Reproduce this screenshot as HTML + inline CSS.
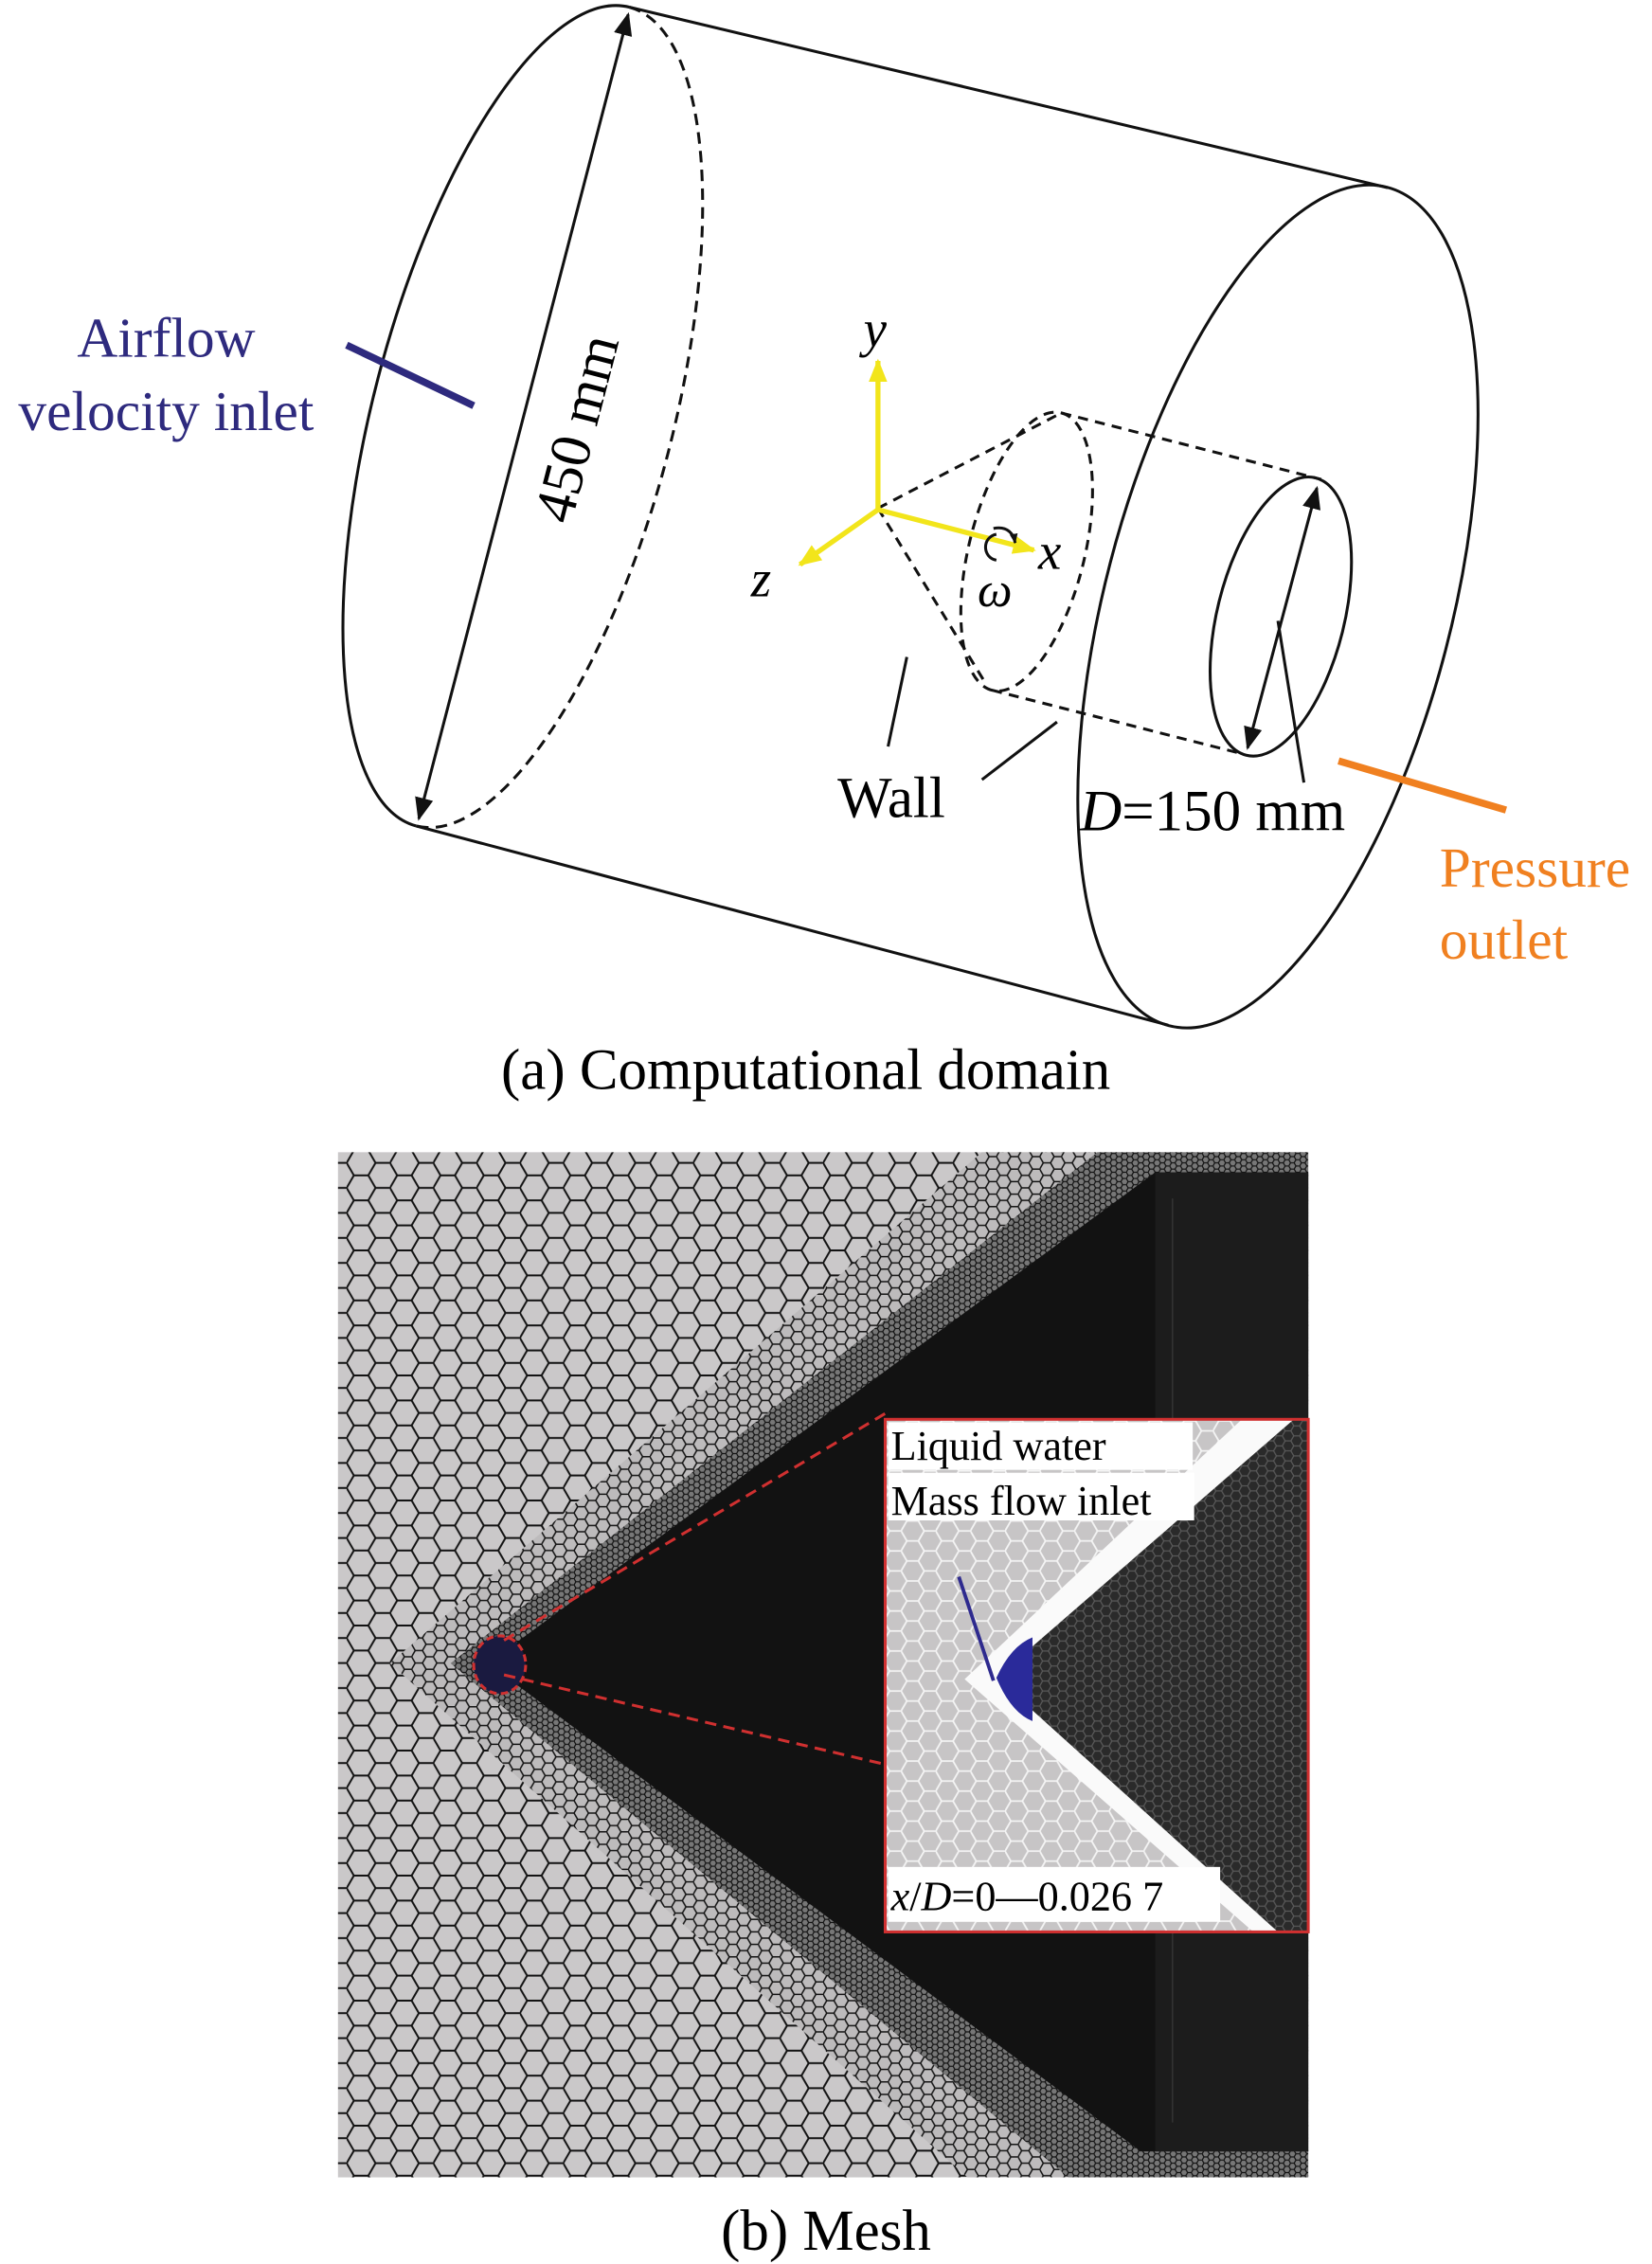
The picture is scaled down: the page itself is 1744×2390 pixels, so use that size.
<!DOCTYPE html>
<html><head><meta charset="utf-8"><style>
html,body{margin:0;padding:0;background:#fff;}
svg{display:block;}
text{font-family:"Liberation Serif",serif;}
</style></head><body>
<svg width="1744" height="2390" viewBox="0 0 1144 1568" xmlns="http://www.w3.org/2000/svg">
<defs>
<marker id="ah" viewBox="0 0 10 10" refX="9" refY="5" markerWidth="7" markerHeight="7" orient="auto-start-reverse" markerUnits="userSpaceOnUse"><path d="M0,1 L10,5 L0,9 Z" fill="#111"/></marker>
<marker id="ahb" viewBox="0 0 10 10" refX="9" refY="5" markerWidth="16" markerHeight="16" orient="auto-start-reverse" markerUnits="userSpaceOnUse"><path d="M0,1 L10,5 L0,9 Z" fill="#111"/></marker>
<marker id="ay" viewBox="0 0 10 10" refX="9" refY="5" markerWidth="16" markerHeight="16" orient="auto" markerUnits="userSpaceOnUse"><path d="M0,1 L10,5 L0,9 Z" fill="#f2e51b"/></marker>
<pattern id="hexL" width="30" height="17.32" patternUnits="userSpaceOnUse">
<rect width="30" height="17.32" fill="#cac8c9"/>
<path d="M0,8.66 L5,0 L15,0 L20,8.66 L15,17.32 L5,17.32 Z M20,8.66 L30,8.66" fill="none" stroke="#111" stroke-width="1.3"/></pattern>
<pattern id="hexM" width="15" height="8.66" patternUnits="userSpaceOnUse">
<rect width="15" height="8.66" fill="#bdbbbc"/>
<path d="M0,4.33 L2.5,0 L7.5,0 L10,4.33 L7.5,8.66 L2.5,8.66 Z M10,4.33 L15,4.33" fill="none" stroke="#111" stroke-width="1"/></pattern>
<pattern id="hexS" width="7.5" height="4.33" patternUnits="userSpaceOnUse">
<rect width="7.5" height="4.33" fill="#777"/>
<path d="M0,2.165 L1.25,0 L3.75,0 L5,2.165 L3.75,4.33 L1.25,4.33 Z M5,2.165 L7.5,2.165" fill="none" stroke="#111" stroke-width="0.8"/></pattern>
<pattern id="hexW" width="24" height="13.86" patternUnits="userSpaceOnUse">
<rect width="24" height="13.86" fill="#c7c5c6"/>
<path d="M0,6.93 L4,0 L12,0 L16,6.93 L12,13.86 L4,13.86 Z M16,6.93 L24,6.93" fill="none" stroke="#f4f4f4" stroke-width="1.2"/></pattern>
<pattern id="hexD" width="12" height="6.93" patternUnits="userSpaceOnUse">
<rect width="12" height="6.93" fill="#2a2a2a"/>
<path d="M0,3.465 L2,0 L6,0 L8,3.465 L6,6.93 L2,6.93 Z M8,3.465 L12,3.465" fill="none" stroke="#5a5a5a" stroke-width="0.8"/></pattern>
<clipPath id="inset"><rect x="613" y="983" width="293" height="355"/></clipPath>
</defs>

<g fill="none" stroke="#111" stroke-width="2">
<path d="M436,5 A293,104 -75.4 0 0 288,572"/>
<path d="M436,5 A293,104 -75.4 0 1 288,572" stroke-dasharray="8,5"/>
<ellipse cx="885" cy="420" rx="300" ry="120" transform="rotate(-75.4 885 420)"/>
<line x1="436" y1="5" x2="961" y2="130"/>
<line x1="288" y1="572" x2="809" y2="710"/>
<ellipse cx="711" cy="382" rx="99" ry="40" transform="rotate(-76 711 382)" stroke-dasharray="7,5"/>
<line x1="608" y1="352" x2="735" y2="286" stroke-dasharray="7,5"/>
<line x1="608" y1="352" x2="683" y2="474" stroke-dasharray="7,5"/>
<line x1="735" y1="286" x2="915" y2="332" stroke-dasharray="7,5"/>
<line x1="687" y1="478" x2="860" y2="522" stroke-dasharray="7,5"/>
<ellipse cx="887" cy="427" rx="99" ry="44" transform="rotate(-76 887 427)"/>
<line x1="435" y1="10" x2="290" y2="567" marker-start="url(#ahb)" marker-end="url(#ahb)"/>
<line x1="912" y1="338" x2="864" y2="518" marker-start="url(#ahb)" marker-end="url(#ahb)"/>
<line x1="885" y1="430" x2="903" y2="542"/>
<line x1="628" y1="455" x2="615" y2="517"/>
<line x1="732" y1="500" x2="680" y2="540"/>
</g>
<text x="0" y="0" font-size="40" transform="translate(412,300) rotate(-75.4)" text-anchor="middle">450 mm</text>
<text x="580" y="566" font-size="40">Wall</text>
<text x="748" y="575" font-size="40"><tspan font-style="italic">D</tspan>=150 mm</text>

<g stroke="#f2e51b" stroke-width="3.5" fill="none">
<line x1="608" y1="353" x2="608" y2="250" marker-end="url(#ay)"/>
<line x1="608" y1="353" x2="716" y2="381" marker-end="url(#ay)"/>
<line x1="608" y1="353" x2="554" y2="391" marker-end="url(#ay)"/>
</g>
<path d="M690,370 C680,372 680,386 690,388" fill="none" stroke="#111" stroke-width="2"/>
<path d="M688,366 C698,364 702,370 703,376" fill="none" stroke="#111" stroke-width="2" marker-end="url(#ah)"/>
<text x="598" y="240" font-size="36" font-style="italic">y</text>
<text x="719" y="394" font-size="36" font-style="italic">x</text>
<text x="520" y="413" font-size="36" font-style="italic">z</text>
<text x="677" y="420" font-size="34" font-style="italic">ω</text>

<text x="115" y="247" font-size="39" fill="#2e2a7e" text-anchor="middle">Airflow</text>
<text x="115" y="298" font-size="39" fill="#2e2a7e" text-anchor="middle">velocity inlet</text>
<line x1="240" y1="239" x2="328" y2="281" stroke="#2e2a7e" stroke-width="5"/>
<line x1="927" y1="527" x2="1043" y2="561" stroke="#f08020" stroke-width="5"/>
<text x="997" y="614" font-size="39" fill="#f08020">Pressure</text>
<text x="997" y="664" font-size="39" fill="#f08020">outlet</text>

<text x="558" y="754" font-size="40" text-anchor="middle">(a) Computational domain</text>

<rect x="234" y="798" width="672" height="710" fill="url(#hexL)"/>
<polygon points="270,1152 680,798 906,798 906,1508 670,1508" fill="url(#hexM)"/>
<polygon points="312,1152 760,798 906,798 906,1508 740,1508" fill="url(#hexS)"/>
<polygon points="338,1152 800,812 906,812 906,1490 790,1490" fill="#121212"/>
<polygon points="800,812 906,812 906,1490 800,1490" fill="#1c1c1c"/>
<line x1="812" y1="830" x2="812" y2="1470" stroke="#333" stroke-width="1"/>

<ellipse cx="346" cy="1153" rx="18" ry="20" fill="#1a1a40" stroke="#d03030" stroke-width="2" stroke-dasharray="5,3"/>
<line x1="349" y1="1136" x2="613" y2="979" stroke="#d03030" stroke-width="2" stroke-dasharray="8,5"/>
<line x1="349" y1="1160" x2="613" y2="1222" stroke="#d03030" stroke-width="2" stroke-dasharray="8,5"/>

<g clip-path="url(#inset)">
<rect x="613" y="983" width="293" height="355" fill="url(#hexW)"/>
<polygon points="668,1163 860,983 930,983 930,1338 868,1338" fill="#fafafa"/>
<polygon points="690,1162 896,983 930,983 930,1338 885,1338" fill="url(#hexD)"/>
<path d="M690,1162 Q700,1140 715,1134 L715,1192 Q700,1186 690,1162 Z" fill="#2a2a9a"/>
</g>
<rect x="613" y="983" width="293" height="355" fill="none" stroke="#d03030" stroke-width="2"/>
<rect x="615" y="985" width="211" height="33" fill="#fff"/>
<rect x="615" y="1020" width="212" height="33" fill="#fff"/>
<rect x="615" y="1293" width="230" height="38" fill="#fff"/>
<text x="617" y="1011" font-size="29">Liquid water</text>
<text x="617" y="1049" font-size="29">Mass flow inlet</text>
<text x="617" y="1323" font-size="29"><tspan font-style="italic">x</tspan>/<tspan font-style="italic">D</tspan>=0—0.026 7</text>
<line x1="664" y1="1092" x2="688" y2="1164" stroke="#2e2a8e" stroke-width="2.5"/>

<text x="572" y="1558" font-size="40" text-anchor="middle">(b) Mesh</text>
</svg>
</body></html>
